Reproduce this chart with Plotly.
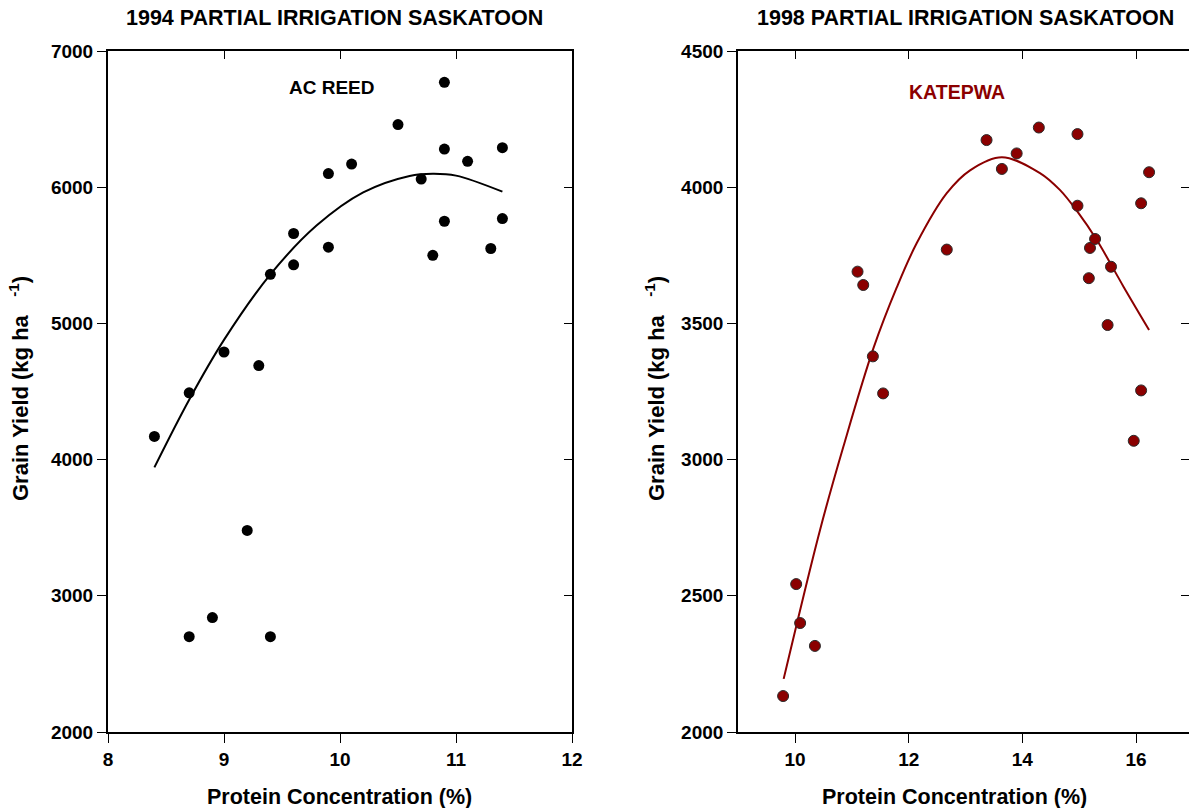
import plotly.graph_objects as go

# ---------------- data: 1994 AC REED ----------------
reed_protein = [8.4, 8.7, 8.7, 8.9, 9.0, 9.2, 9.3, 9.4, 9.4, 9.6, 9.6, 9.9,
                9.9, 10.1, 10.5, 10.7, 10.8, 10.9, 10.9, 10.9, 11.1, 11.3, 11.4, 11.4]
reed_yield = [4170, 4490, 2700, 2840, 4790, 3480, 4690, 2700, 5360, 5430, 5660, 5560,
              6100, 6170, 6460, 6060, 5500, 6770, 6280, 5750, 6190, 5550, 6290, 5770]
reed_fit_x = [8.4, 8.7, 9.0, 9.4, 9.8, 10.2, 10.6, 10.8, 11.0, 11.4]
reed_fit_y = [3943, 4440, 4879, 5360, 5720, 5962, 6083, 6099, 6085, 5967]

# ---------------- data: 1998 KATEPWA ----------------
kat_protein = [9.79, 10.02, 10.09, 10.35, 11.10, 11.20, 11.37, 11.55, 12.67, 13.37,
               13.64, 13.90, 14.29, 14.97, 14.97, 15.17, 15.19, 15.28, 15.50, 15.56,
               15.96, 16.09, 16.09, 16.23]
kat_yield = [2132, 2543, 2400, 2316, 3690, 3641, 3379, 3243, 3771, 4173,
             4067, 4124, 4219, 4195, 3932, 3666, 3777, 3810, 3494, 3708,
             3069, 3254, 3941, 4055]
kat_fit_x = [9.8, 10.44, 10.85, 11.38, 11.79, 12.14, 12.67, 13.08, 13.64, 14.31,
             14.66, 14.97, 15.31, 15.78, 16.23]
kat_fit_y = [2195, 2742, 3047, 3409, 3632, 3794, 3978, 4062, 4110, 4052,
             3990, 3910, 3806, 3635, 3476]

left_xticks = [8, 9, 10, 11, 12]
left_yticks = [2000, 3000, 4000, 5000, 6000, 7000]
right_xticks = [10, 12, 14, 16]
right_yticks = [2000, 2500, 3000, 3500, 4000, 4500]

W, H = 1189, 808
FONT = "Liberation Sans, Arial, sans-serif"
DARKRED = "#8B0000"

def px(x):
    return x / W

def py(y):
    return 1 - y / H

fig = go.Figure()

fig.add_trace(go.Scatter(x=reed_fit_x, y=reed_fit_y, mode="lines",
                         line=dict(color="black", width=2, shape="spline", smoothing=1.0),
                         xaxis="x", yaxis="y", showlegend=False, hoverinfo="skip"))
fig.add_trace(go.Scatter(x=reed_protein, y=reed_yield, mode="markers",
                         marker=dict(color="black", size=11), xaxis="x", yaxis="y", showlegend=False))
fig.add_trace(go.Scatter(x=kat_fit_x, y=kat_fit_y, mode="lines",
                         line=dict(color=DARKRED, width=2, shape="spline", smoothing=1.0),
                         xaxis="x2", yaxis="y2", showlegend=False, hoverinfo="skip"))
fig.add_trace(go.Scatter(x=kat_protein, y=kat_yield, mode="markers",
                         marker=dict(color=DARKRED, size=11, line=dict(color="#2a2a2a", width=1)),
                         xaxis="x2", yaxis="y2", showlegend=False))

for xa, ya in [("x3", "y"), ("x", "y3"), ("x4", "y2"), ("x2", "y4")]:
    fig.add_trace(go.Scatter(x=[None], y=[None], xaxis=xa, yaxis=ya, showlegend=False, hoverinfo="skip"))

ydom = [py(732), py(51)]
ldom = [px(108), px(572)]
rdom = [px(738.2), 1.0]
lxr = [8, 12]
lyr = [2000, 7000]
rxr = [9, 9 + (W - 738.2) / 56.83]
ryr = [2000, 4500]

tickfont = dict(family=FONT, size=19, color="black", weight="bold")

def main_axis(dom, rng, tv, anchor):
    return dict(domain=dom, range=rng, tickvals=tv, ticks="outside", ticklen=9, tickwidth=1,
                tickcolor="black", showline=True, linewidth=2, linecolor="black", showgrid=False,
                zeroline=False, tickfont=tickfont, anchor=anchor, fixedrange=True, automargin=False)

def mirror_axis(over, rng, tv, side, anchor, showline=True):
    return dict(overlaying=over, range=rng, tickvals=tv, ticks="inside", ticklen=8, tickwidth=1,
                tickcolor="black", showline=showline, linewidth=2, linecolor="black", showgrid=False,
                zeroline=False, showticklabels=False, side=side, anchor=anchor, fixedrange=True,
                automargin=False)

fig.update_layout(
    width=W, height=H, autosize=False,
    margin=dict(l=0, r=0, t=0, b=0, pad=0, autoexpand=False),
    paper_bgcolor="white", plot_bgcolor="white",
    xaxis=main_axis(ldom, lxr, left_xticks, "y"),
    yaxis=main_axis(ydom, lyr, left_yticks, "x"),
    xaxis2=main_axis(rdom, rxr, right_xticks, "y2"),
    yaxis2=main_axis(ydom, ryr, right_yticks, "x2"),
    xaxis3=mirror_axis("x", lxr, left_xticks, "top", "y"),
    yaxis3=mirror_axis("y", lyr, left_yticks, "right", "x"),
    xaxis4=mirror_axis("x2", rxr, right_xticks, "top", "y2"),
    yaxis4=mirror_axis("y2", ryr, right_yticks, "right", "x2", showline=False),
)

def ann(text, x, y, size, color="black", angle=0):
    fig.add_annotation(text=text, x=px(x), y=py(y), xref="paper", yref="paper",
                       showarrow=False, xanchor="center", yanchor="middle", textangle=angle,
                       font=dict(family=FONT, size=size, color=color, weight="bold"))

ann("1994 PARTIAL IRRIGATION SASKATOON", 334, 18, 21.5)
ann("1998 PARTIAL IRRIGATION SASKATOON", 965, 18, 21.5)
ann("AC REED", 332, 88, 19)
ann("KATEPWA", 957, 92, 19.5, color=DARKRED)
ann("Protein Concentration (%)", 339, 797, 21.5)
ann("Protein Concentration (%)", 954, 797, 21.5)
ylab = "Grain Yield (kg ha&nbsp;&nbsp;&nbsp;<sup>-1</sup>)"
ann(ylab, 19, 389, 22, angle=-90)
ann(ylab, 655, 389, 22, angle=-90)

fig.write_html("out.html")
